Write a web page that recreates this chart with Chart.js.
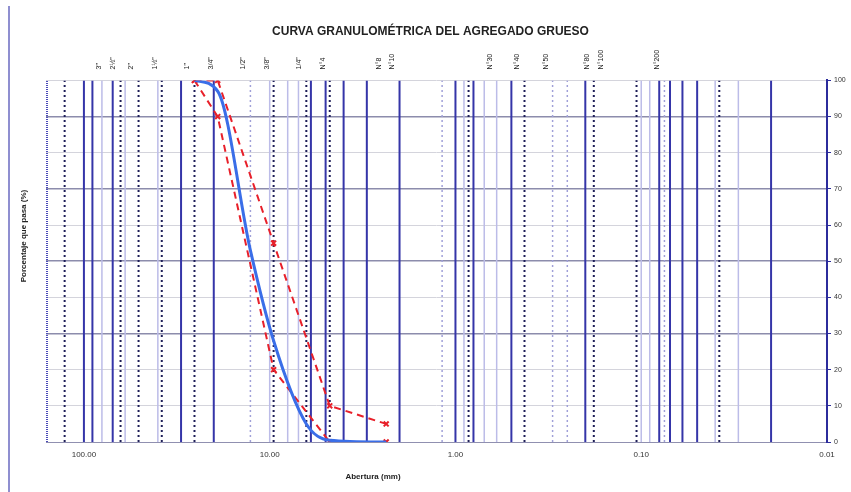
<!DOCTYPE html>
<html>
<head>
<meta charset="utf-8">
<title>Curva granulometrica</title>
<script src="https://cdn.jsdelivr.net/npm/chart.js@4.4.1/dist/chart.umd.min.js"></script>
<style>
    html, body { margin: 0; padding: 0; background: #fff; }
    #wrap { position: relative; width: 851px; height: 492px; }
    #wrap canvas { position: absolute; left: 0; top: 0; }
    #frame { position: absolute; left: 8px; top: 6px; bottom: 0; width: 2px; background: #8f8fd0; }
</style>
</head>
<body>
<div id="wrap">
    <canvas id="granChart" width="851" height="492"></canvas>
    <div id="frame"></div>
</div>
<script>
// Curva granulometrica del agregado grueso

// muestra ensayada
const sieveOpenings = [25.4, 19.05, 12.7, 9.525, 6.35, 4.75, 2.36];
const samplePassing = [100, 97, 53, 28, 5, 0.5, 0];

// limites del huso
const limitOpenings = [25.4, 19.05, 9.525, 4.75, 2.36];
const upperLimit = [100, 100, 55, 10, 5];
const lowerLimit = [100, 90, 20, 0, 0];

// ejes
const xTickValues = [100, 10, 1, 0.1, 0.01];
const majorGridValues = [30, 50, 70, 90];

// nombres de tamices arriba del grafico
const topLabels = ['3"', '2½"', '2"', '1½"', '1"', '3/4"', '1/2"', '3/8"', '1/4"', 'N°4', 'N°8', 'N°10', 'N°30', 'N°40', 'N°50', 'N°80', 'N°100', 'N°200'];
const topLabelSizes = [76.2, 63.5, 50.8, 38.1, 25.4, 19.05, 12.7, 9.525, 6.35, 4.75, 2.36, 2.0, 0.6, 0.425, 0.3, 0.18, 0.15, 0.075];

// lineas verticales de referencia (mm)
const edgeLines = [158];
const solidLines = [100, 90, 70, 30, 20, 6, 5, 4, 3, 2, 1, 0.8, 0.5, 0.2, 0.08, 0.07, 0.06, 0.05, 0.02];
const lightLines = [80, 60, 40, 10, 8, 7, 0.9, 0.7, 0.6, 0.1, 0.09, 0.04, 0.03];
const sieveLines = [127, 63.5, 50.8, 38.1, 25.4, 9.525, 6.35, 4.75, 0.85, 0.425, 0.18, 0.106, 0.038];
const lightSieveLines = [12.7, 1.18, 0.3, 0.25, 0.075];

const FONT = '"Liberation Sans Narrow", "Liberation Sans", Arial, sans-serif';

document.addEventListener('DOMContentLoaded', () => {
    drawChart();
});

function verticalLine(value, color, width, dash) {
    return {
        data: [{ x: value, y: 0 }, { x: value, y: 100 }],
        borderColor: color,
        borderWidth: width,
        borderDash: dash,
        pointRadius: 0,
        order: 2
    };
}

function buildVerticalLines() {
    return [
        ...edgeLines.map(v => verticalLine(v, '#4a4ab8', 2, [1, 1])),
        ...lightLines.map(v => verticalLine(v, '#bcbce8', 1.5, [])),
        ...lightSieveLines.map(v => verticalLine(v, '#a0a0d8', 1.5, [2, 3])),
        ...solidLines.map(v => verticalLine(v, '#3535a8', 2, [])),
        ...sieveLines.map(v => verticalLine(v, '#1e1e58', 2, [2, 3]))
    ];
}

function toPoints(xs, ys) {
    return xs.map((x, i) => ({ x: x, y: ys[i] }));
}

// textos sueltos: tamices arriba, titulos de ejes
const extraText = {
    id: 'extraText',
    afterDraw(chart) {
        const { ctx, chartArea, scales } = chart;
        ctx.save();
        ctx.fillStyle = '#222';
        ctx.font = '7px ' + FONT;
        ctx.textAlign = 'left';
        ctx.textBaseline = 'middle';
        topLabels.forEach((label, i) => {
            const px = scales.x.getPixelForValue(topLabelSizes[i]) - 7;
            ctx.save();
            ctx.translate(px, chartArea.top - 11);
            ctx.rotate(-Math.PI / 2);
            ctx.fillText(label, 0, 0);
            ctx.restore();
        });

        ctx.font = 'bold 8px ' + FONT;
        ctx.textAlign = 'center';
        ctx.save();
        ctx.translate(24, 236);
        ctx.rotate(-Math.PI / 2);
        ctx.fillText('Porcentaje que pasa (%)', 0, 0);
        ctx.restore();

        ctx.fillText('Abertura (mm)', 373, 477);
        ctx.restore();
    }
};

function drawChart() {
    const ctx = document.getElementById('granChart');
    new Chart(ctx, {
        type: 'line',
        data: {
            datasets: [
                {
                    label: 'Muestra',
                    data: toPoints(sieveOpenings, samplePassing),
                    borderColor: '#3a6ee8',
                    borderWidth: 3,
                    pointRadius: 0,
                    cubicInterpolationMode: 'monotone',
                    order: 0
                },
                {
                    label: 'Limite superior',
                    data: toPoints(limitOpenings, upperLimit),
                    borderColor: '#e8202a',
                    borderWidth: 2,
                    borderDash: [7, 5],
                    pointStyle: 'crossRot',
                    pointRadius: 3.5,
                    pointBorderWidth: 2,
                    pointBorderColor: '#e8202a',
                    order: 1
                },
                {
                    label: 'Limite inferior',
                    data: toPoints(limitOpenings, lowerLimit),
                    borderColor: '#e8202a',
                    borderWidth: 2,
                    borderDash: [7, 5],
                    pointStyle: 'crossRot',
                    pointRadius: 3.5,
                    pointBorderWidth: 2,
                    pointBorderColor: '#e8202a',
                    order: 1
                },
                ...buildVerticalLines()
            ]
        },
        options: {
            responsive: false,
            animation: false,
            devicePixelRatio: 1,
            layout: { padding: { left: 10, right: 0, top: 0, bottom: 0 } },
            plugins: {
                legend: { display: false },
                tooltip: { enabled: false },
                title: {
                    display: true,
                    text: 'CURVA GRANULOMÉTRICA DEL AGREGADO GRUESO',
                    color: '#222',
                    font: { family: '"Liberation Sans", Arial, sans-serif', size: 12, weight: 'bold' },
                    padding: { top: 24, bottom: 42 }
                }
            },
            scales: {
                x: {
                    type: 'logarithmic',
                    reverse: true,
                    min: 0.01,
                    max: 160,
                    afterBuildTicks: scale => {
                        scale.ticks = xTickValues.map(v => ({ value: v }));
                    },
                    afterFit: scale => { scale.height = 50; },
                    ticks: {
                        callback: v => Number(v).toFixed(2),
                        font: { family: FONT, size: 8 },
                        color: '#333',
                        padding: 8,
                        maxRotation: 0,
                        autoSkip: false
                    },
                    grid: { display: false, drawTicks: false },
                    border: { display: true, color: '#9090b0', width: 1 }
                },
                y: {
                    position: 'left',
                    min: 0,
                    max: 100,
                    afterFit: scale => { scale.width = 36; },
                    ticks: { display: false, stepSize: 10 },
                    grid: {
                        drawTicks: false,
                        color: c => majorGridValues.includes(c.tick.value) ? '#8c8cac' : '#d4d4dc',
                        lineWidth: c => majorGridValues.includes(c.tick.value) ? 1.5 : 1
                    },
                    border: { display: false }
                },
                y2: {
                    position: 'right',
                    min: 0,
                    max: 100,
                    afterFit: scale => { scale.width = 24; },
                    ticks: {
                        stepSize: 10,
                        font: { family: FONT, size: 7 },
                        color: '#333',
                        padding: 3
                    },
                    grid: { drawOnChartArea: false, tickLength: 4, color: '#2c2c9c' },
                    border: { color: '#2c2c9c', width: 2 }
                }
            }
        },
        plugins: [extraText]
    });
}
</script>
</body>
</html>
